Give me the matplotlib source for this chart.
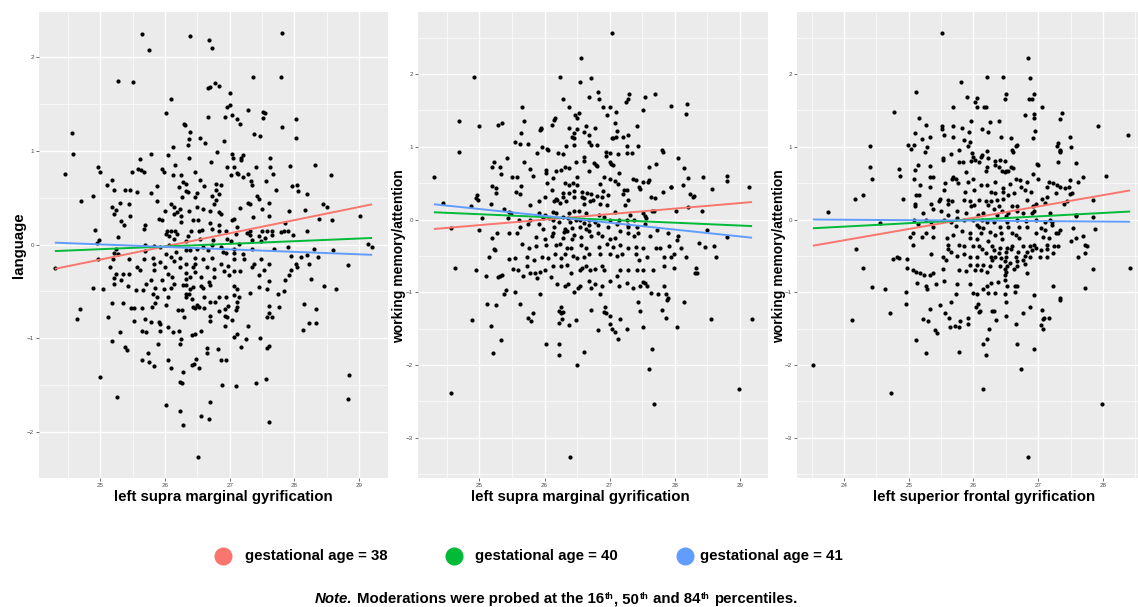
#!/usr/bin/env python3
"""Gyrification x gestational age moderation plots (three ggplot-style panels)."""

import matplotlib

matplotlib.use("Agg")
import matplotlib.pyplot as plt
import numpy as np
from matplotlib.lines import Line2D

W, H = 1138, 607

# (gyrification, score) pairs
smg_language = [
    (25.65, 2.25), (25.76, 2.08), (26.38, 2.23), (26.68, 2.19), (26.72, 2.10), (27.81, 2.26),
    (27.80, 1.79), (27.36, 1.79), (25.28, 1.75), (25.50, 1.74), (26.77, 1.73), (26.66, 1.67),
    (26.69, 1.68), (26.84, 1.69), (27.01, 1.62), (26.09, 1.56), (27.01, 1.49), (26.96, 1.47),
    (27.29, 1.44), (27.52, 1.42), (27.55, 1.41), (26.02, 1.41), (27.04, 1.39), (26.66, 1.36),
    (26.93, 1.36), (27.12, 1.34), (27.52, 1.35), (28.03, 1.34), (27.16, 1.29), (26.30, 1.29),
    (26.31, 1.28), (27.81, 1.26), (24.56, 1.19), (26.39, 1.20), (27.38, 1.18), (27.47, 1.16),
    (26.54, 1.14), (26.37, 1.13), (28.02, 1.14), (26.62, 1.09), (26.91, 1.11), (26.35, 1.06),
    (26.13, 1.04), (26.81, 0.99), (24.58, 0.97), (25.79, 0.97), (27.04, 0.97), (27.21, 0.96),
    (26.04, 0.96), (27.05, 0.93), (27.17, 0.93), (26.37, 0.92), (27.62, 0.92), (25.61, 0.91),
    (27.18, 0.90), (26.71, 0.88), (28.32, 0.85), (26.15, 0.85), (27.93, 0.84), (24.96, 0.83),
    (26.96, 0.83), (27.40, 0.83), (27.06, 0.83), (27.63, 0.83), (25.00, 0.78), (25.58, 0.81),
    (25.63, 0.80), (25.95, 0.81), (25.49, 0.78), (25.67, 0.78), (25.98, 0.78), (27.11, 0.77),
    (27.13, 0.75), (27.67, 0.75), (24.45, 0.75), (26.25, 0.74), (26.46, 0.78), (27.28, 0.75),
    (27.02, 0.74), (28.56, 0.74), (27.21, 0.72), (26.12, 0.74), (26.54, 0.69), (25.19, 0.69),
    (27.33, 0.68), (27.56, 0.68), (26.28, 0.67), (26.32, 0.65), (26.79, 0.65), (26.86, 0.64),
    (25.11, 0.64), (27.35, 0.64), (28.04, 0.64), (25.88, 0.63), (26.61, 0.63), (26.22, 0.62),
    (27.97, 0.63), (25.21, 0.58), (25.38, 0.58), (25.46, 0.58), (25.57, 0.56), (25.79, 0.55),
    (26.33, 0.57), (26.36, 0.56), (26.50, 0.55), (26.79, 0.58), (26.84, 0.54), (26.72, 0.52),
    (27.71, 0.58), (28.05, 0.57), (28.20, 0.54), (24.89, 0.52), (26.27, 0.51), (26.46, 0.51),
    (27.42, 0.52), (27.46, 0.49), (24.70, 0.47), (25.87, 0.47), (26.79, 0.48), (25.31, 0.44),
    (25.44, 0.43), (26.09, 0.43), (26.75, 0.43), (27.28, 0.44), (27.31, 0.43), (27.61, 0.44),
    (28.44, 0.43), (28.51, 0.40), (25.18, 0.40), (26.14, 0.40), (26.49, 0.40), (26.59, 0.38),
    (25.24, 0.37), (26.00, 0.36), (26.19, 0.35), (26.24, 0.38), (26.37, 0.36), (26.69, 0.36),
    (26.84, 0.35), (26.87, 0.33), (27.16, 0.39), (27.50, 0.38), (27.91, 0.36), (28.16, 0.37),
    (25.46, 0.31), (25.22, 0.33), (26.14, 0.33), (26.25, 0.31), (29.01, 0.31), (27.61, 0.30),
    (26.51, 0.26), (25.91, 0.27), (25.95, 0.26), (27.03, 0.26), (27.06, 0.27), (27.36, 0.29),
    (28.38, 0.27), (28.58, 0.26), (25.32, 0.25), (26.25, 0.24), (26.44, 0.26), (26.53, 0.15),
    (25.37, 0.21), (25.69, 0.21), (26.70, 0.23), (26.84, 0.21), (27.86, 0.23), (24.92, 0.16),
    (26.03, 0.15), (26.10, 0.14), (26.16, 0.15), (26.72, 0.17), (26.83, 0.15), (26.94, 0.15),
    (27.11, 0.19), (27.31, 0.15), (27.65, 0.14), (27.84, 0.14), (27.90, 0.15), (28.20, 0.15),
    (25.67, 0.17), (26.41, 0.15), (26.57, 0.16), (27.27, 0.12), (27.50, 0.14), (27.57, 0.15),
    (27.80, 0.13), (24.95, 0.02), (24.98, 0.05), (25.27, 0.08), (26.01, 0.11), (26.07, 0.09),
    (26.19, 0.11), (26.36, 0.09), (26.54, 0.06), (26.74, 0.05), (27.09, 0.11), (27.31, 0.10),
    (27.46, 0.09), (27.54, 0.07), (27.65, 0.10), (27.98, 0.10), (26.14, 0.06), (26.33, 0.04),
    (26.96, 0.06), (27.02, 0.04), (27.14, 0.01), (27.34, 0.05), (27.48, 0.04), (29.14, 0.01),
    (29.20, -0.03), (25.69, -0.01), (25.83, -0.02), (25.93, -0.03), (26.06, -0.01), (26.59, -0.03),
    (26.72, -0.01), (26.86, -0.03), (27.06, -0.05), (27.68, -0.05), (25.24, -0.05), (25.69, -0.07),
    (26.32, -0.06), (26.39, -0.06), (26.49, -0.05), (26.66, -0.06), (26.89, -0.08), (27.34, -0.05),
    (27.90, -0.03), (28.30, -0.05), (28.60, -0.06), (25.22, -0.09), (25.27, -0.10), (26.01, -0.10),
    (26.17, -0.08), (26.94, -0.09), (27.07, -0.09), (27.21, -0.10), (26.24, -0.14), (26.46, -0.14),
    (27.95, -0.12), (28.10, -0.13), (28.19, -0.11), (28.36, -0.13), (26.09, -0.13), (25.20, -0.15),
    (24.96, -0.16), (25.45, -0.15), (25.68, -0.15), (25.82, -0.14), (26.59, -0.15), (26.72, -0.14),
    (27.06, -0.16), (27.22, -0.16), (27.49, -0.16), (25.83, -0.21), (25.93, -0.19), (26.14, -0.18),
    (26.32, -0.21), (26.46, -0.21), (26.87, -0.21), (27.37, -0.21), (27.61, -0.21), (28.02, -0.21),
    (28.22, -0.21), (28.82, -0.22), (24.30, -0.25), (25.15, -0.24), (25.57, -0.24), (26.00, -0.24),
    (26.23, -0.24), (26.43, -0.24), (26.65, -0.24), (26.98, -0.23), (27.16, -0.28), (27.35, -0.24),
    (27.53, -0.27), (28.04, -0.24), (25.62, -0.27), (25.83, -0.27), (26.75, -0.26), (26.91, -0.28),
    (26.46, -0.29), (26.33, -0.30), (27.07, -0.28), (27.95, -0.27), (25.24, -0.31), (25.35, -0.31),
    (25.45, -0.31), (26.04, -0.31), (26.55, -0.35), (26.75, -0.35), (26.99, -0.33), (27.45, -0.33),
    (27.91, -0.33), (28.25, -0.37), (26.11, -0.35), (25.21, -0.36), (25.32, -0.38), (25.78, -0.38),
    (25.96, -0.38), (26.32, -0.37), (26.39, -0.35), (27.60, -0.39), (27.85, -0.38), (25.21, -0.42),
    (25.70, -0.42), (26.14, -0.42), (26.28, -0.43), (26.32, -0.43), (26.55, -0.44), (26.59, -0.46),
    (26.68, -0.40), (26.70, -0.43), (27.06, -0.44), (27.46, -0.45), (28.45, -0.44), (25.43, -0.44),
    (24.89, -0.47), (25.05, -0.48), (25.85, -0.46), (25.98, -0.48), (26.10, -0.47), (26.39, -0.48),
    (26.44, -0.45), (27.11, -0.48), (27.57, -0.48), (28.64, -0.48), (25.55, -0.49), (25.66, -0.49),
    (25.81, -0.53), (25.88, -0.56), (26.04, -0.56), (26.32, -0.53), (26.37, -0.53), (26.61, -0.56),
    (26.84, -0.56), (26.94, -0.56), (27.06, -0.54), (27.15, -0.56), (27.31, -0.52), (27.75, -0.53),
    (27.84, -0.50), (26.33, -0.56), (26.42, -0.58),
    (24.64, -0.80), (24.69, -0.69), (25.12, -0.78), (25.19, -0.62), (25.35, -0.62), (25.47, -0.68),
    (25.52, -0.68), (25.52, -0.82), (25.64, -0.68), (25.69, -0.80), (25.78, -0.83), (25.80, -0.67),
    (25.85, -0.62), (25.91, -0.83), (25.93, -0.85), (26.01, -0.65), (26.04, -0.88), (26.20, -0.70),
    (26.27, -0.70), (26.30, -0.77), (26.44, -0.67), (26.47, -0.68), (26.50, -0.65), (26.52, -0.67),
    (26.60, -0.68), (26.70, -0.61), (26.70, -0.76), (26.69, -0.82), (26.78, -0.61), (26.83, -0.71),
    (26.92, -0.69), (26.93, -0.76), (26.96, -0.77), (26.92, -0.87), (26.98, -0.66), (27.03, -0.81),
    (27.09, -0.70), (27.11, -0.67), (27.12, -0.61), (27.29, -0.87), (27.60, -0.66), (27.61, -0.73),
    (27.57, -0.77), (27.65, -0.77), (27.76, -0.67), (28.15, -0.64), (28.33, -0.69), (28.22, -0.84),
    (28.34, -0.84), (28.13, -0.91), (25.31, -0.93), (25.18, -1.03), (25.65, -0.92), (25.71, -0.93),
    (25.93, -0.92), (26.22, -0.92), (26.13, -0.94), (26.42, -0.97), (26.46, -0.96), (26.55, -0.92),
    (25.89, -1.06), (26.23, -1.06), (26.25, -1.01), (27.06, -0.99), (27.12, -0.96), (27.25, -1.01),
    (27.47, -1.00), (25.38, -1.10), (25.41, -1.13), (25.74, -1.16), (26.65, -1.11), (26.65, -1.16),
    (26.82, -1.12), (27.18, -1.10), (27.57, -1.11), (27.61, -1.09), (25.65, -1.24), (25.75, -1.26),
    (25.83, -1.30), (26.04, -1.23), (26.09, -1.32), (26.42, -1.29), (26.45, -1.28), (26.48, -1.22),
    (26.53, -1.32), (26.87, -1.23), (26.95, -1.24), (26.28, -1.36), (26.23, -1.47), (26.27, -1.48),
    (26.88, -1.50), (27.10, -1.51), (27.41, -1.48), (27.56, -1.44), (28.84, -1.39), (25.00, -1.42),
    (25.26, -1.63), (28.83, -1.65), (26.01, -1.72), (26.23, -1.78), (26.70, -1.68), (26.55, -1.83),
    (26.68, -1.87), (26.28, -1.93), (27.60, -1.90), (26.51, -2.27),
]

smg_wm = [
    (27.04, 2.56), (26.56, 2.22), (24.92, 1.96), (26.24, 1.96), (26.72, 1.95), (26.54, 1.89),
    (26.82, 1.75), (27.30, 1.73), (27.70, 1.72), (26.69, 1.68), (27.54, 1.68), (26.84, 1.66),
    (27.29, 1.65), (26.28, 1.65), (27.25, 1.61), (28.19, 1.59), (26.90, 1.55), (27.01, 1.55),
    (27.94, 1.56), (25.65, 1.54), (26.38, 1.54), (27.52, 1.51), (27.10, 1.48), (26.53, 1.46),
    (26.47, 1.44), (26.96, 1.43), (28.18, 1.45), (26.16, 1.39), (26.14, 1.37), (26.50, 1.40),
    (24.68, 1.36), (25.35, 1.33), (25.29, 1.30), (25.68, 1.35), (26.63, 1.29), (27.09, 1.33),
    (24.99, 1.29), (26.12, 1.30), (27.42, 1.28), (25.94, 1.26), (25.95, 1.24), (26.37, 1.26),
    (26.50, 1.24), (26.78, 1.26), (25.93, 1.23), (26.60, 1.20), (27.12, 1.21), (25.64, 1.19),
    (26.46, 1.19), (26.68, 1.16), (27.03, 1.12), (27.06, 1.12), (27.10, 1.13), (27.21, 1.13),
    (27.29, 1.16), (26.42, 1.13), (26.45, 1.12), (25.54, 1.07), (25.63, 1.04), (25.75, 1.04),
    (26.69, 1.07), (26.71, 1.03), (26.81, 1.03), (26.33, 1.01), (26.45, 1.02), (25.96, 1.00),
    (27.27, 1.01), (27.43, 1.01), (26.04, 0.97), (26.06, 0.96), (27.81, 0.95), (27.82, 0.93),
    (24.69, 0.93), (25.89, 0.91), (26.20, 0.92), (26.28, 0.90), (26.94, 0.93), (27.01, 0.92),
    (27.13, 0.90), (27.27, 0.92), (27.35, 0.91), (26.60, 0.86), (26.95, 0.87), (25.42, 0.85),
    (26.60, 0.81), (25.68, 0.79), (26.49, 0.79), (25.23, 0.79), (27.00, 0.79), (28.05, 0.84),
    (26.76, 0.78), (26.79, 0.75), (26.81, 0.73), (27.71, 0.76), (27.02, 0.76), (27.06, 0.75),
    (25.19, 0.72), (25.31, 0.72), (26.32, 0.72), (26.37, 0.71), (27.61, 0.72), (28.14, 0.71),
    (25.77, 0.70), (26.02, 0.68), (26.03, 0.64), (26.25, 0.68), (27.14, 0.64), (26.68, 0.66),
    (26.17, 0.66), (25.33, 0.62), (25.82, 0.60), (25.50, 0.59), (25.57, 0.59), (26.13, 0.57),
    (26.50, 0.59), (26.91, 0.59), (27.00, 0.55), (24.30, 0.58), (28.21, 0.57), (28.43, 0.59),
    (28.81, 0.60), (28.81, 0.53), (27.08, 0.53), (27.61, 0.54), (26.04, 0.50), (26.31, 0.50),
    (26.43, 0.50), (26.50, 0.48), (27.36, 0.56), (27.40, 0.54), (27.51, 0.51), (27.59, 0.51),
    (25.19, 0.46), (25.64, 0.46), (26.38, 0.47), (26.86, 0.49), (27.13, 0.49), (27.45, 0.45),
    (27.47, 0.42), (27.22, 0.41), (27.26, 0.40), (25.25, 0.43), (25.56, 0.38), (26.12, 0.40),
    (26.28, 0.36), (26.38, 0.37), (26.46, 0.39), (26.58, 0.38), (26.66, 0.37), (26.72, 0.35),
    (26.90, 0.39), (27.20, 0.35), (27.82, 0.38), (27.95, 0.44), (28.13, 0.47), (28.57, 0.42),
    (29.14, 0.44), (25.26, 0.37), (25.63, 0.35), (26.01, 0.31), (26.17, 0.28), (26.19, 0.27),
    (26.29, 0.31), (26.46, 0.31), (26.58, 0.31), (26.61, 0.29), (26.80, 0.32), (26.89, 0.31),
    (26.97, 0.34), (27.29, 0.27), (27.63, 0.31), (27.70, 0.29), (28.24, 0.35), (28.28, 0.31),
    (28.30, 0.32), (24.96, 0.34), (24.95, 0.29), (24.97, 0.27), (24.44, 0.23), (24.87, 0.19),
    (25.18, 0.21), (25.37, 0.15), (25.77, 0.20), (25.92, 0.25), (26.15, 0.26), (26.24, 0.23),
    (26.33, 0.25), (26.61, 0.22), (26.70, 0.25), (26.75, 0.27), (26.86, 0.21), (26.96, 0.20),
    (27.23, 0.20), (27.65, 0.12), (27.69, 0.12), (27.94, 0.45), (28.02, 0.12), (28.21, 0.17),
    (28.42, 0.12), (25.45, 0.11), (25.48, 0.09), (25.91, 0.09), (26.01, 0.06), (26.13, 0.11),
    (26.17, 0.09), (26.37, 0.09), (26.45, 0.12), (26.53, 0.12), (26.64, 0.09), (26.83, 0.06),
    (27.09, 0.10), (27.32, 0.06), (27.52, 0.09), (27.55, 0.05), (25.04, 0.02), (25.44, 0.02),
    (25.61, 0.00), (25.77, 0.00), (25.98, 0.02), (26.07, 0.02), (26.13, 0.00), (26.28, 0.03),
    (26.36, 0.02), (26.49, 0.00), (26.55, 0.00), (26.68, 0.00), (26.77, -0.03), (26.91, 0.04),
    (27.01, 0.00), (27.15, 0.00), (27.26, -0.01), (27.37, 0.00), (27.56, 0.02), (26.22, -0.03),
    (26.39, -0.04), (26.60, -0.05), (25.75, -0.06), (25.91, -0.06), (26.69, -0.08), (26.82, -0.07),
    (27.12, -0.06), (27.29, -0.07), (27.55, -0.06), (24.57, -0.11), (24.99, -0.15), (25.63, -0.10),
    (25.97, -0.13), (26.14, -0.10), (26.32, -0.13), (26.42, -0.12), (26.54, -0.10), (26.63, -0.13),
    (26.97, -0.10), (27.28, -0.10), (27.42, -0.10), (27.73, -0.14), (28.49, -0.14), (25.27, -0.19),
    (25.45, -0.18), (25.58, -0.18), (26.13, -0.19), (26.30, -0.17), (26.35, -0.16), (26.46, -0.21),
    (26.68, -0.16), (26.82, -0.19), (27.16, -0.16), (27.29, -0.19), (27.44, -0.18), (27.89, -0.19),
    (28.04, -0.28), (28.46, -0.38), (28.81, -0.24), (25.20, -0.26), (25.87, -0.24), (26.01, -0.27),
    (26.11, -0.23), (26.28, -0.25), (26.42, -0.27), (26.56, -0.24), (26.72, -0.23), (26.89, -0.23),
    (27.00, -0.27), (27.09, -0.26), (27.38, -0.23), (27.62, -0.23), (28.05, -0.23), (28.60, -0.36),
    (25.22, -0.41), (25.24, -0.42), (25.65, -0.33), (25.76, -0.39), (25.87, -0.36), (26.02, -0.35),
    (26.17, -0.35), (26.24, -0.34), (26.34, -0.39), (26.41, -0.39), (26.56, -0.35), (26.63, -0.39),
    (26.83, -0.38), (26.96, -0.34), (27.06, -0.38), (27.16, -0.35), (27.28, -0.39), (27.40, -0.38),
    (27.52, -0.39), (27.71, -0.39), (27.78, -0.39), (27.92, -0.36), (28.09, -0.39), (28.37, -0.32),
    (28.64, -0.51), (25.14, -0.51), (25.45, -0.54), (25.54, -0.53), (25.73, -0.51), (25.84, -0.55),
    (25.96, -0.51), (26.05, -0.53), (26.16, -0.48), (26.26, -0.53), (26.32, -0.48), (26.43, -0.50),
    (26.50, -0.53), (26.61, -0.51), (26.68, -0.48), (26.85, -0.48), (27.00, -0.48), (27.11, -0.50),
    (27.19, -0.48), (27.41, -0.48), (27.45, -0.55), (27.57, -0.51), (27.84, -0.51), (27.95, -0.51),
    (27.99, -0.48), (28.17, -0.51), (28.33, -0.66), (28.34, -0.73), (28.32, -0.74), (24.63, -0.66),
    (24.94, -0.69), (25.10, -0.77), (25.28, -0.79), (25.31, -0.77), (25.34, -0.76), (25.52, -0.68),
    (25.59, -0.69), (25.67, -0.77), (25.73, -0.64), (25.77, -0.73), (25.86, -0.73), (25.88, -0.80),
    (25.93, -0.72), (26.01, -0.69), (26.10, -0.79), (26.13, -0.64), (26.25, -0.64), (26.34, -0.62),
    (26.41, -0.73), (26.54, -0.69), (26.57, -0.66), (26.64, -0.64), (26.70, -0.69), (26.77, -0.68),
    (26.88, -0.64), (26.91, -0.69), (27.12, -0.77), (27.16, -0.70), (27.29, -0.69), (27.42, -0.69),
    (27.52, -0.69), (27.67, -0.70), (27.84, -0.64), (27.99, -0.66), (26.19, -0.89), (26.32, -0.91),
    (26.36, -0.89), (26.51, -0.94), (26.54, -0.92), (26.69, -0.85), (26.72, -0.94), (26.78, -0.89),
    (26.88, -0.91), (27.01, -0.85), (27.15, -0.92), (27.26, -0.87), (27.36, -0.94), (27.46, -0.92),
    (27.51, -0.86), (27.55, -0.87), (27.57, -0.92), (27.63, -1.01), (27.74, -1.02), (27.84, -0.91),
    (27.87, -1.03), (27.89, -1.08), (25.38, -1.03), (25.41, -0.97), (25.54, -1.00), (25.93, -1.03),
    (26.45, -1.00), (26.85, -1.03),
    (25.12, -1.16), (25.25, -1.17), (25.62, -1.16), (24.88, -1.38), (25.17, -1.46), (25.33, -1.66),
    (25.21, -1.83), (25.75, -1.35), (25.79, -1.40), (25.82, -1.28), (26.03, -1.71), (26.22, -1.26),
    (26.23, -1.42), (26.25, -1.29), (26.25, -1.20), (26.27, -1.37), (26.29, -1.27), (26.23, -1.71),
    (26.22, -1.86), (26.38, -1.45), (26.48, -1.38), (26.50, -2.00), (26.60, -1.82), (26.72, -1.24),
    (26.82, -1.52), (26.91, -1.27), (26.93, -1.20), (26.95, -1.28), (27.01, -1.33), (27.01, -1.43),
    (27.03, -1.51), (27.09, -1.55), (27.13, -1.64), (27.16, -1.36), (27.27, -1.51), (27.44, -1.13),
    (27.46, -1.25), (27.51, -1.48), (27.65, -1.78), (27.60, -2.06), (27.68, -2.53), (27.81, -1.24),
    (27.87, -1.35), (27.88, -1.10), (28.04, -1.48), (28.15, -1.13), (28.56, -1.36), (29.19, -1.37),
    (28.99, -2.33), (24.56, -2.38), (26.39, -3.26),
]

sf_wm = [
    (25.51, 2.56), (26.84, 2.22), (26.21, 1.96), (26.46, 1.96), (26.88, 1.95), (25.81, 1.89),
    (25.12, 1.75), (26.50, 1.73), (26.94, 1.72), (25.90, 1.68), (26.48, 1.65), (26.86, 1.65),
    (26.90, 1.65), (26.05, 1.67), (26.03, 1.61), (26.06, 1.54), (26.16, 1.55), (26.20, 1.55),
    (25.69, 1.54), (27.06, 1.54), (24.78, 1.48), (26.94, 1.45), (26.80, 1.44), (27.36, 1.46),
    (27.34, 1.38), (25.16, 1.39), (26.94, 1.39), (26.26, 1.34), (26.39, 1.35), (25.96, 1.35),
    (25.27, 1.30), (25.69, 1.28), (25.82, 1.26), (25.51, 1.28), (25.52, 1.25), (26.13, 1.25),
    (27.93, 1.28), (25.93, 1.20), (26.22, 1.20), (25.10, 1.19), (25.55, 1.16), (26.95, 1.22),
    (28.38, 1.16), (26.42, 1.13), (25.68, 1.13), (25.20, 1.10), (26.58, 1.12), (27.49, 1.13),
    (26.92, 1.12), (25.86, 1.09), (25.95, 1.07), (25.33, 1.13), (26.67, 1.03), (26.65, 1.01),
    (27.30, 1.05), (27.29, 1.01), (27.51, 1.00), (24.41, 1.01), (24.99, 1.03), (25.08, 1.03),
    (25.04, 0.97), (25.91, 1.01), (25.29, 1.00), (25.25, 0.93), (26.60, 0.96), (26.61, 0.93),
    (25.98, 0.92), (26.21, 0.94), (25.77, 0.95), (27.33, 0.96), (27.34, 0.94), (27.34, 0.93),
    (26.00, 0.86), (26.11, 0.86), (26.13, 0.88), (26.23, 0.84), (25.53, 0.85), (25.65, 0.90),
    (26.33, 0.80), (26.41, 0.82), (26.03, 0.82), (26.08, 0.79), (25.96, 0.80), (25.53, 0.82),
    (25.78, 0.79), (27.31, 0.79), (25.84, 0.79), (26.48, 0.81), (26.98, 0.76), (26.99, 0.75),
    (27.59, 0.77), (25.14, 0.75), (25.33, 0.74), (26.33, 0.75), (26.58, 0.72), (26.39, 0.72),
    (26.61, 0.71), (24.40, 0.72), (24.85, 0.70), (26.21, 0.72), (26.44, 0.67), (26.49, 0.65),
    (26.54, 0.67), (25.89, 0.65), (25.09, 0.68), (26.92, 0.63), (26.19, 0.67), (26.51, 0.67),
    (24.87, 0.60), (24.43, 0.55), (25.08, 0.55), (25.33, 0.58), (25.38, 0.58), (25.68, 0.59),
    (25.67, 0.56), (26.65, 0.55), (26.72, 0.54), (26.83, 0.51), (28.04, 0.60), (27.69, 0.58),
    (27.61, 0.51), (27.49, 0.54), (26.99, 0.55), (27.16, 0.52), (25.91, 0.52), (26.00, 0.56),
    (25.73, 0.56), (25.56, 0.50), (25.76, 0.50), (26.12, 0.47), (26.21, 0.48), (26.34, 0.51),
    (26.56, 0.49), (27.13, 0.45), (27.23, 0.50), (27.29, 0.48), (25.33, 0.45), (25.18, 0.47),
    (26.46, 0.43), (26.74, 0.44), (26.80, 0.41), (27.34, 0.44), (27.42, 0.43), (27.47, 0.45),
    (26.89, 0.38), (26.62, 0.36), (26.01, 0.40), (25.54, 0.41), (25.87, 0.38), (26.27, 0.38),
    (26.34, 0.36), (26.45, 0.38), (26.54, 0.34), (27.28, 0.37), (27.49, 0.35), (27.52, 0.36),
    (24.30, 0.34), (24.17, 0.28), (24.91, 0.28), (25.12, 0.34), (25.16, 0.34), (25.48, 0.28),
    (25.47, 0.26), (25.61, 0.27), (25.67, 0.25), (25.86, 0.27), (25.94, 0.25), (26.08, 0.27),
    (26.19, 0.26), (26.27, 0.26), (26.37, 0.27), (26.46, 0.28), (26.83, 0.27), (27.06, 0.28),
    (27.14, 0.31), (27.84, 0.27), (27.40, 0.21), (27.44, 0.25), (25.09, 0.21), (25.10, 0.19),
    (25.34, 0.22), (25.60, 0.21), (25.96, 0.18), (26.01, 0.20), (26.22, 0.20), (26.40, 0.18),
    (26.59, 0.19), (26.68, 0.18), (26.92, 0.18), (26.96, 0.22), (27.11, 0.23), (25.37, 0.14),
    (25.50, 0.12), (25.75, 0.12), (26.31, 0.14), (26.44, 0.12), (26.68, 0.12), (26.94, 0.12),
    (27.19, 0.09), (25.22, 0.09), (25.61, 0.06), (25.89, 0.09), (26.07, 0.06), (26.15, 0.09),
    (26.37, 0.06), (26.54, 0.09), (26.77, 0.09), (26.91, 0.09), (27.59, 0.06), (27.85, 0.04),
    (23.75, 0.11), (24.55, -0.05), (25.08, 0.00), (25.26, 0.00), (25.34, -0.03), (25.54, 0.00),
    (25.65, -0.03), (25.74, 0.02), (25.85, 0.00), (26.00, 0.00), (26.13, 0.00), (26.21, -0.03),
    (26.31, -0.04), (26.50, 0.05), (26.52, -0.03), (26.67, 0.00), (26.81, -0.02), (26.96, 0.00),
    (27.11, -0.03), (27.18, 0.00), (27.22, -0.04), (27.22, -0.07), (27.59, 0.05), (25.15, -0.06),
    (25.38, -0.10), (25.73, -0.09), (26.05, -0.07), (26.09, -0.10), (26.14, -0.12), (26.41, -0.10),
    (26.54, -0.10), (26.71, -0.10), (26.82, -0.10), (27.05, -0.12), (27.11, -0.15), (27.53, -0.12),
    (25.06, -0.19), (25.26, -0.18), (25.69, -0.21), (25.82, -0.16), (25.94, -0.19), (26.12, -0.19),
    (26.26, -0.17), (26.33, -0.21), (26.42, -0.19), (26.59, -0.19), (26.65, -0.21), (26.97, -0.19),
    (27.28, -0.19), (27.31, -0.19), (27.34, -0.14), (27.87, -0.13), (25.02, -0.24), (25.20, -0.24),
    (25.37, -0.24), (25.59, -0.26), (25.94, -0.26), (26.06, -0.27), (26.22, -0.30), (26.44, -0.27),
    (26.71, -0.26), (27.07, -0.24), (27.16, -0.26), (27.59, -0.25), (27.69, -0.23), (27.50, -0.29),
    (25.06, -0.35), (25.61, -0.35), (25.78, -0.35), (25.85, -0.37), (26.00, -0.37), (26.09, -0.37),
    (26.29, -0.37), (26.41, -0.39), (26.52, -0.39), (26.60, -0.36), (26.76, -0.37), (26.87, -0.36),
    (26.93, -0.35), (26.96, -0.39), (27.13, -0.35), (27.25, -0.37), (27.31, -0.37), (27.72, -0.35),
    (27.75, -0.37), (25.60, -0.41), (25.66, -0.44), (25.85, -0.48), (26.13, -0.41), (26.20, -0.46),
    (26.31, -0.42), (26.39, -0.46), (26.50, -0.45), (26.58, -0.41), (26.69, -0.44), (26.82, -0.45),
    (26.90, -0.42), (27.05, -0.42), (27.14, -0.41), (27.23, -0.46), (27.73, -0.46), (24.19, -0.41),
    (25.35, -0.48), (25.53, -0.51), (25.74, -0.50), (25.94, -0.51), (26.05, -0.51), (26.27, -0.51),
    (26.33, -0.52), (26.42, -0.53), (26.51, -0.52), (26.66, -0.51), (26.79, -0.50), (26.87, -0.51),
    (27.03, -0.51), (27.14, -0.51), (27.62, -0.51), (24.76, -0.54), (24.82, -0.51), (24.85, -0.53),
    (24.98, -0.54), (26.29, -0.55), (26.48, -0.57), (26.57, -0.60), (26.67, -0.57), (26.77, -0.55),
    (25.94, -0.63), (26.05, -0.62), (26.15, -0.62), (26.26, -0.64), (26.41, -0.64), (26.49, -0.68),
    (26.52, -0.64), (26.63, -0.68), (26.67, -0.64), (26.80, -0.61), (25.58, -0.56), (24.30, -0.66),
    (24.98, -0.67), (25.06, -0.70), (25.12, -0.72), (25.18, -0.73), (25.24, -0.76), (25.33, -0.76),
    (25.37, -0.73), (25.53, -0.68), (25.78, -0.69), (25.88, -0.71), (26.02, -0.70), (26.11, -0.70),
    (26.21, -0.72), (26.50, -0.72), (26.49, -0.76), (27.84, -0.68), (26.83, -0.73), (28.42, -0.66),
    (25.13, -0.87), (25.27, -0.92), (25.42, -0.89), (25.54, -0.85), (25.74, -0.89), (25.94, -0.89),
    (26.21, -0.92), (26.27, -0.87), (26.38, -0.86), (26.49, -0.83), (26.52, -0.91), (26.64, -0.91),
    (26.68, -0.91), (27.23, -0.92), (27.73, -0.94), (24.44, -0.93), (24.64, -0.95), (24.96, -1.00),
    (25.28, -0.96), (25.73, -1.03), (25.99, -1.01), (26.06, -1.02), (26.15, -0.96), (26.23, -1.01),
    (26.34, -1.01), (26.49, -1.02), (26.64, -1.00), (26.93, -1.04), (27.34, -1.08),
    (24.96, -1.16), (24.71, -1.29), (24.12, -1.38), (25.22, -1.37), (25.30, -1.39), (25.33, -1.23),
    (25.11, -1.66), (25.26, -1.83), (25.40, -1.52), (25.44, -1.56), (25.48, -1.17), (25.56, -1.28),
    (25.63, -1.35), (25.65, -1.13), (25.64, -1.48), (25.71, -1.46), (25.77, -1.48), (25.79, -1.40),
    (25.78, -1.82), (25.92, -1.35), (25.92, -1.43), (26.04, -1.20), (26.07, -1.16), (26.08, -1.27),
    (26.10, -1.26), (26.15, -1.71), (26.20, -1.86), (26.21, -1.64), (26.24, -1.51), (26.28, -1.26),
    (26.31, -1.25), (26.35, -1.38), (26.51, -1.13), (26.50, -1.33), (26.65, -1.43), (26.68, -1.71),
    (26.76, -1.29), (26.88, -1.20), (26.94, -1.78), (26.73, -2.06), (26.15, -2.33), (27.06, -1.24),
    (27.05, -1.45), (27.07, -1.37), (27.07, -1.50), (27.09, -1.35), (27.16, -1.35), (27.34, -1.10),
    (24.72, -2.38), (23.52, -2.00), (27.98, -2.53), (26.85, -3.26),
]

ga_labels = ["gestational age = 38", "gestational age = 40", "gestational age = 41"]
ga_colors = ["#F8766D", "#00BA38", "#619CFF"]

# simple slopes: fitted value at the smallest and largest x, per gestational age
fit_smg_language = [(-0.26, 0.43), (-0.07, 0.07), (0.02, -0.11)]
fit_smg_wm = [(-0.13, 0.24), (0.10, -0.09), (0.21, -0.25)]
fit_sf_wm = [(-0.36, 0.40), (-0.12, 0.11), (0.00, -0.03)]

PANELS = [
    dict(pts=smg_language, fits=fit_smg_language,
         xlabel="left supra marginal gyrification", ylabel="language",
         xticks=[25, 26, 27, 28, 29], yticks=[-2, -1, 0, 1, 2],
         px=(39, 388), ylab_x=19, ylab_cy=245, ylab_fs=10.8, xlab_cx=223),
    dict(pts=smg_wm, fits=fit_smg_wm,
         xlabel="left supra marginal gyrification", ylabel="working memory/attention",
         xticks=[25, 26, 27, 28, 29], yticks=[-3, -2, -1, 0, 1, 2],
         px=(418, 768), ylab_x=399, ylab_cy=256, ylab_fs=10.0, xlab_cx=580),
    dict(pts=sf_wm, fits=fit_sf_wm,
         xlabel="left superior frontal gyrification", ylabel="working memory/attention",
         xticks=[24, 25, 26, 27, 28], yticks=[-3, -2, -1, 0, 1, 2],
         px=(797, 1146), ylab_x=779, ylab_cy=256, ylab_fs=10.0, xlab_cx=984),
]

TOP, BOTTOM = 12, 478
FS = 10.8


def expand(v):
    lo, hi = float(np.min(v)), float(np.max(v))
    pad = (hi - lo) * 0.05
    return lo - pad, hi + pad


def half_breaks(lim):
    b = np.arange(np.floor(lim[0]) + 0.5, lim[1], 1.0)
    return b[b > lim[0]]


def draw_panel(fig, p):
    x0, x1 = p["px"]
    ax = fig.add_axes([x0 / W, 1 - BOTTOM / H, (x1 - x0) / W, (BOTTOM - TOP) / H])
    pts = np.array(p["pts"])
    x, y = pts[:, 0], pts[:, 1]
    xlim, ylim = expand(x), expand(y)

    ax.set_facecolor("#EBEBEB")
    for s in ax.spines.values():
        s.set_visible(False)
    ax.set_xlim(*xlim)
    ax.set_ylim(*ylim)
    ax.set_xticks(p["xticks"])
    ax.set_yticks(p["yticks"])
    ax.set_xticks(half_breaks(xlim), minor=True)
    ax.set_yticks(half_breaks(ylim), minor=True)
    ax.grid(which="major", color="white", lw=0.95)
    ax.grid(which="minor", color="white", lw=0.45)
    ax.set_axisbelow(True)
    ax.tick_params(which="major", length=2, width=0.5, color="#333333",
                   labelsize=4.5, labelcolor="#4D4D4D", pad=1.5)
    ax.tick_params(which="minor", length=0)

    ax.scatter(x, y, s=9, c="black", linewidths=0, zorder=2)
    xs = [x.min(), x.max()]
    for (ya, yb), col in zip(p["fits"], ga_colors):
        ax.plot(xs, [ya, yb], color=col, lw=1.4, zorder=3, solid_capstyle="butt")

    h = BOTTOM - TOP
    ax.set_xlabel(p["xlabel"], fontsize=FS, fontweight="bold", va="center")
    ax.xaxis.set_label_coords((p["xlab_cx"] - x0) / (x1 - x0), -(497 - BOTTOM) / h)
    ax.set_ylabel(p["ylabel"], fontsize=p["ylab_fs"], fontweight="bold", va="center")
    ax.yaxis.set_label_coords((p["ylab_x"] - x0) / (x1 - x0), (BOTTOM - p["ylab_cy"]) / h)
    return ax


def draw_legend(fig):
    circle_x = [223, 454, 685]
    text_x = [245, 475, 700]
    yy = 1 - 556 / H
    for cx, tx, lab, col in zip(circle_x, text_x, ga_labels, ga_colors):
        fig.add_artist(Line2D([cx / W], [yy], transform=fig.transFigure, marker="o",
                              markersize=13, markerfacecolor=col, markeredgewidth=0,
                              linestyle="none"))
        fig.text(tx / W, yy, lab, fontsize=FS, fontweight="bold", va="center", ha="left")


def draw_note(fig):
    r = fig.canvas.get_renderer()

    def width(s):
        t = fig.text(0, 0, s, fontsize=FS, fontweight="bold")
        w = t.get_window_extent(r).width
        t.remove()
        return w

    gap = width("n n") - width("nn")
    pieces = [
        ("Note.", "italic", False, False),
        ("Moderations were probed at the 16", "normal", False, True),
        ("th", "normal", True, False),
        (", 50", "normal", False, False),
        ("th", "normal", True, False),
        ("and 84", "normal", False, True),
        ("th", "normal", True, False),
        ("percentiles.", "normal", False, True),
    ]
    x = 315.0
    base = 603
    for s, style, sup, space in pieces:
        if space:
            x += gap
        yy = base - 4 if sup else base
        t = fig.text(x / W, 1 - yy / H, s, fontsize=FS * 0.62 if sup else FS,
                     fontweight="bold", fontstyle=style, va="baseline", ha="left")
        x = t.get_window_extent(r).x1 + 0.5


def main() -> None:
    plt.rcParams["font.family"] = ["Liberation Sans", "DejaVu Sans"]
    fig = plt.figure(figsize=(W / 100, H / 100), dpi=100)
    fig.patch.set_facecolor("white")
    for p in PANELS:
        draw_panel(fig, p)
    draw_legend(fig)
    draw_note(fig)
    fig.savefig("out.png", dpi=100, facecolor="white")
    plt.close(fig)


if __name__ == "__main__":
    main()
